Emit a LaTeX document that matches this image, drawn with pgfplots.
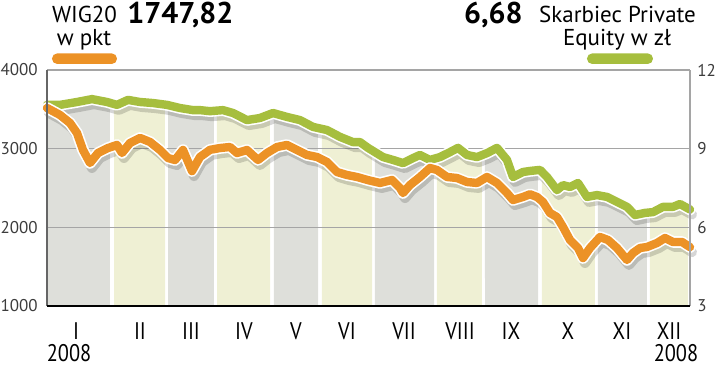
\documentclass[border=0pt]{standalone}
\usepackage{fontspec}
\setmainfont{PT Sans}
\newfontfamily\condfont{PT Sans}[FakeStretch=0.85]
\usepackage{pgfplots}
\pgfplotsset{compat=1.18}
\usepgfplotslibrary{fillbetween}
\usepackage{pgfplotstable}

\definecolor{orangec}{RGB}{236,146,38}
\definecolor{greenc}{RGB}{166,190,62}
\definecolor{bandgrey}{RGB}{222,223,218}
\definecolor{bandyel}{RGB}{239,240,212}
\definecolor{gridc}{RGB}{165,165,165}
\definecolor{tickc}{RGB}{60,60,60}

% Skarbiec Private Equity (zl)
\pgfplotstableread{
x y
47 10.67
60 10.67
77 10.78
92 10.89
107 10.78
117 10.67
128 10.86
140 10.78
153 10.74
167 10.67
180 10.55
193 10.47
200 10.47
210 10.43
223 10.47
233 10.36
247 10.09
260 10.17
273 10.36
287 10.21
300 10.09
313 9.83
327 9.71
340 9.45
353 9.25
360 9.25
368 9.03
383 8.68
393 8.57
403 8.45
413 8.64
420 8.76
430 8.57
440 8.68
450 8.87
458 9.03
467 8.76
477 8.68
487 8.83
497 9.03
507 8.57
513 7.92
523 8.11
530 8.15
540 8.19
547 7.92
557 7.42
563 7.61
570 7.54
578 7.69
587 7.16
597 7.23
607 7.16
617 6.97
627 6.78
635 6.47
645 6.55
653 6.58
663 6.78
673 6.78
680 6.89
690 6.68
}\greendata

% WIG20 (pkt)
\pgfplotstableread{
x y
47 3517
60 3428
70 3326
77 3199
83 2983
90 2818
98 2945
108 3008
117 3047
122 2945
130 3072
140 3136
150 3085
160 2983
168 2881
175 2856
183 2983
192 2715
200 2894
210 2985
220 3008
230 3021
237 2945
247 2983
258 2856
267 2945
277 3021
287 3047
297 2983
307 2920
317 2894
327 2831
337 2703
347 2665
357 2640
368 2600
380 2564
392 2602
400 2500
403 2436
410 2538
420 2640
430 2754
437 2729
447 2640
457 2627
467 2576
477 2564
487 2640
497 2564
507 2436
513 2347
523 2386
530 2420
537 2386
543 2322
550 2182
557 2131
563 2004
570 1839
578 1737
583 1610
590 1737
600 1877
608 1839
617 1737
627 1585
633 1674
640 1737
647 1750
657 1801
665 1864
673 1814
682 1814
690 1748
}\orangedata

\begin{document}
\begin{tikzpicture}
\pgfplotsset{base/.style={
  scale only axis, width=321.5pt, height=118pt,
  at={(23.5pt,31.5pt)}, anchor=south west,
  xmin=47, xmax=690, clip=false,
  axis line style={draw=none}, major tick length=0pt, tick style={draw=none},
  /pgf/number format/assume math mode=true,
  /pgf/number format/set thousands separator={},
}}
% ---- axis in zl: bands, grid, green line
\begin{axis}[base, ymin=3, ymax=12, ytick={3,6,9,12}, xtick=\empty,
  yticklabel pos=right,
  yticklabel style={font=\fontsize{8.5}{9}\selectfont, text=tickc, anchor=west, inner sep=0pt, xshift=3.5pt}]
\addplot[draw=none, name path=G, forget plot] table {\greendata};
\addplot[draw=none, name path=B, forget plot] coordinates {(47,3) (690,3)};
\addplot[bandgrey] fill between[of=G and B, soft clip={domain=47:110}];
\addplot[bandyel] fill between[of=G and B, soft clip={domain=114:165}];
\addplot[bandgrey] fill between[of=G and B, soft clip={domain=168:214}];
\addplot[bandyel] fill between[of=G and B, soft clip={domain=217:270}];
\addplot[bandgrey] fill between[of=G and B, soft clip={domain=274:318}];
\addplot[bandyel] fill between[of=G and B, soft clip={domain=322:372}];
\addplot[bandgrey] fill between[of=G and B, soft clip={domain=375:434}];
\addplot[bandyel] fill between[of=G and B, soft clip={domain=437:482}];
\addplot[bandgrey] fill between[of=G and B, soft clip={domain=485:538}];
\addplot[bandyel] fill between[of=G and B, soft clip={domain=542:595}];
\addplot[bandgrey] fill between[of=G and B, soft clip={domain=598:647}];
\addplot[bandyel] fill between[of=G and B, soft clip={domain=650:688}];
\draw[gridc, line width=0.5pt] (axis cs:47,6) -- (axis cs:690,6);
\draw[gridc, line width=0.5pt] (axis cs:47,9) -- (axis cs:690,9);
\addplot[black, opacity=0.16, line width=5pt, line join=round, line cap=round, xshift=1pt, yshift=-2.5pt] table {\greendata};
\addplot[white, line width=5.8pt, line join=round, line cap=round] table {\greendata};
\addplot[greenc, line width=4.2pt, line join=round, line cap=round] table {\greendata};
\end{axis}
% ---- axis in pkt: orange line, frame
\begin{axis}[base, ymin=1000, ymax=4000, ytick={1000,2000,3000,4000},
  xtick={76,140,191,244,296,347,404,460,511,568,622,669},
  xticklabels={I,II,III,IV,V,VI,VII,VIII,IX,X,XI,XII},
  xticklabel style={font=\condfont\fontsize{12}{12}\selectfont, text=black, anchor=base, inner sep=0pt, yshift=-17pt},
  yticklabel style={font=\fontsize{8.5}{9}\selectfont, text=tickc, anchor=east, inner sep=0pt, xshift=-4.5pt}]
\addplot[black, opacity=0.16, line width=5pt, line join=round, line cap=round, xshift=1pt, yshift=-2.5pt] table {\orangedata};
\addplot[white, line width=5.8pt, line join=round, line cap=round] table {\orangedata};
\addplot[orangec, line width=4.2pt, line join=round, line cap=round] table {\orangedata};
\draw[gridc, line width=0.6pt] (axis cs:47,4000) -- (axis cs:690,4000);
\draw[gridc, line width=0.6pt] (axis cs:690,1000) -- (axis cs:690,4000);
\draw[black!60, line width=0.9pt] (axis cs:47,1000) -- (axis cs:47,4000);
\draw[black, line width=1.2pt] (axis cs:47,1000) -- (axis cs:690,1000);
\end{axis}
% ---- titles and legend bars
\node[anchor=base, inner sep=0pt, font=\fontsize{11.5}{12}\selectfont] at (42.25pt,173pt) {WIG20};
\node[anchor=base, inner sep=0pt, font=\fontsize{11.5}{12}\selectfont] at (42pt,161.5pt) {w pkt};
\node[anchor=base west, inner sep=0pt, font=\bfseries\fontsize{15}{15}\selectfont] at (63.5pt,172.5pt) {1747,82};
\node[anchor=base east, inner sep=0pt, font=\bfseries\fontsize{15}{15}\selectfont] at (261.5pt,172.5pt) {6,68};
\node[anchor=base, inner sep=0pt, font=\fontsize{11.5}{12}\selectfont] at (308.75pt,173pt) {Skarbiec Private};
\node[anchor=base, inner sep=0pt, font=\fontsize{11.5}{12}\selectfont] at (308.5pt,161.5pt) {Equity w zł};
\fill[orangec, rounded corners=2.6pt] (26pt,152.5pt) rectangle (58.5pt,157.8pt);
\fill[greenc, rounded corners=2.6pt] (293.5pt,152.5pt) rectangle (326.5pt,157.8pt);
\node[anchor=center, inner sep=0pt, font=\condfont\fontsize{12}{12}\selectfont] at (34.5pt,8pt) {2008};
\node[anchor=center, inner sep=0pt, font=\condfont\fontsize{12}{12}\selectfont] at (338pt,8pt) {2008};
\pgfresetboundingbox
\path (0,0) rectangle (360pt,184.5pt);
\end{tikzpicture}
\end{document}
